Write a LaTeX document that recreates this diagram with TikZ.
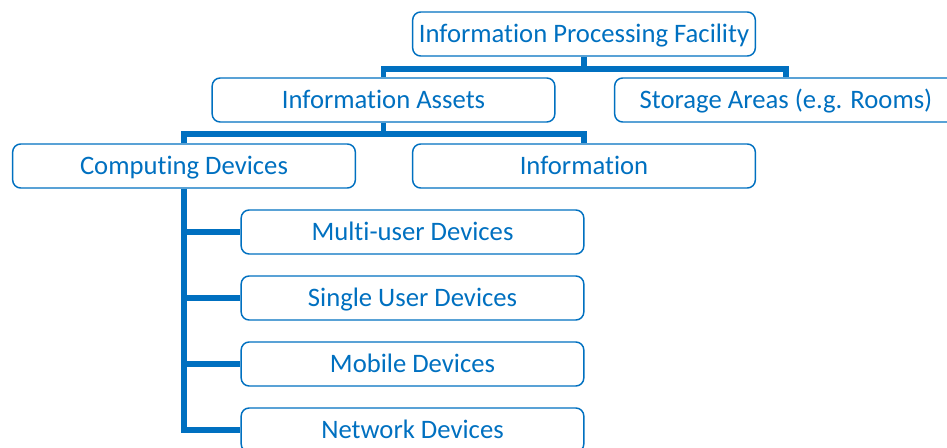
\documentclass[tikz,border=0pt]{standalone}
\usepackage{fontspec}
\setmainfont{Carlito}[Ligatures=NoCommon]
\usetikzlibrary{positioning,calc}
\definecolor{boxblue}{HTML}{0070C0}

\begin{document}
\begin{tikzpicture}[
  x=0.75pt, y=-0.75pt,
  font=\fontsize{20}{24}\selectfont,
  box/.style={draw=boxblue, line width=1.1pt, rounded corners=6pt,
    text=boxblue, minimum width=257pt, minimum height=33pt, inner sep=0pt,
    text height=13pt, text depth=0pt},
  link/.style={draw=boxblue, line width=3.8pt}
]
\useasboundingbox (0,0) rectangle (947,447);

% boxes
\node[box] (ipf) at (584,34) {Information Processing Facility};
\node[box] (assets) at (383.5,100) {Information Assets};
\node[box] (storage) at (786,100) {Storage Areas (e.g. Rooms)};
\node[box] (comp) at (184,166) {Computing Devices};
\node[box] (info) at (584,166) {Information};
\node[box] (multi) at (412.5,232) {Multi-user Devices};
\node[box] (single) at (412.5,298) {Single User Devices};
\node[box] (mobile) at (412.5,364) {Mobile Devices};
\node[box] (net) at (412.5,430) {Network Devices};

% level 1
\coordinate (bus1) at (584,69);
\draw[link] (ipf.south) -- (bus1);
\draw[link] (assets.north) |- (bus1) -| (storage.north);

% level 2
\coordinate (bus2) at (383.5,134);
\draw[link] (assets.south) -- (bus2);
\draw[link] (comp.north) |- (bus2) -| (info.north);

% level 3
\draw[link] (comp.south) |- (net.west);
\foreach \n in {multi,single,mobile} {
  \draw[link] (comp.south |- \n.west) -- (\n.west);
}

\end{tikzpicture}
\end{document}
